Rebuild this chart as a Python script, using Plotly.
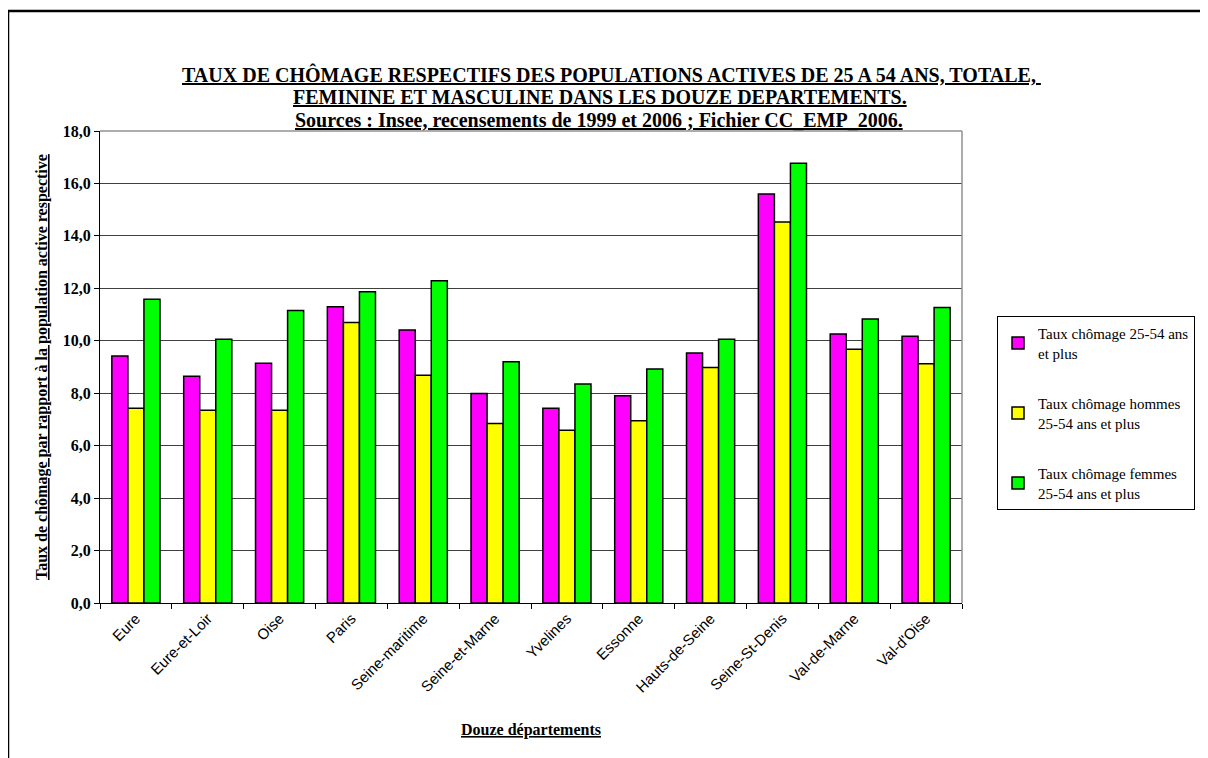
import plotly.graph_objects as go

departements = ["Eure", "Eure-et-Loir", "Oise", "Paris", "Seine-maritime", "Seine-et-Marne",
                "Yvelines", "Essonne", "Hauts-de-Seine", "Seine-St-Denis", "Val-de-Marne", "Val-d'Oise"]
taux_total = [9.42, 8.65, 9.14, 11.30, 10.41, 7.99, 7.43, 7.90, 9.53, 15.60, 10.26, 10.17]
taux_hommes = [7.43, 7.35, 7.35, 10.70, 8.69, 6.85, 6.59, 6.95, 8.98, 14.53, 9.68, 9.12]
taux_femmes = [11.58, 10.06, 11.15, 11.87, 12.29, 9.20, 8.35, 8.92, 10.06, 16.77, 10.83, 11.27]

series_names = ["Taux chômage 25-54 ans<br>et plus",
                "Taux chômage hommes<br>25-54 ans et plus",
                "Taux chômage femmes<br>25-54 ans et plus"]
series_values = [taux_total, taux_hommes, taux_femmes]
series_colors = ["#FF00FF", "#FFFF00", "#00FF00"]

OFF = 8  # page body margin
W, H = 1208 - OFF, 758 - OFF
L, R, T, B = 100, 962, 131, 603  # reference pixel positions of plot area

def px_x(p):
    return (p - L) / (R - L)

def px_y(p):
    return (B - p) / (B - T)

fig = go.Figure()
for i, (name, vals, col) in enumerate(zip(series_names, series_values, series_colors)):
    fig.add_trace(go.Bar(
        x=departements, y=vals, name=name, legendgroup=f"g{i}",
        marker=dict(color=col, line=dict(color="black", width=1.5)),
    ))

serif = "Liberation Serif, Times New Roman, serif"

fig.update_layout(
    width=W, height=H,
    margin=dict(l=L - OFF, r=(1208 - R), t=T - OFF, b=(758 - B), pad=0),
    paper_bgcolor="white", plot_bgcolor="white",
    barmode="group", bargap=0.33, bargroupgap=0,
    separators=", ",
    showlegend=True,
    legend=dict(
        x=px_x(997), y=px_y(316), xanchor="left", yanchor="top",
        bordercolor="black", borderwidth=1, bgcolor="white",
        font=dict(family=serif, size=15, color="black"),
        tracegroupgap=28, traceorder="grouped",
        itemwidth=30,
    ),
    xaxis=dict(
        showline=True, linecolor="black", linewidth=1,
        ticks="outside", tickson="boundaries", ticklen=5, tickcolor="black",
        tickangle=-45,
        tickfont=dict(family="Liberation Sans, Arial, sans-serif", size=15, color="black"),
        showgrid=False, zeroline=False,
    ),
    yaxis=dict(
        range=[0, 18], dtick=2, tickformat=".1f",
        showline=True, linecolor="black", linewidth=1,
        ticks="outside", ticklen=5, tickcolor="black",
        tickfont=dict(family=serif, size=16, color="black", weight="bold"),
        showgrid=True, gridcolor="#404040", gridwidth=1,
        zeroline=False,
    ),
    font=dict(family=serif, color="black"),
)

# plot area border (top/right in gray)
fig.add_shape(type="line", xref="paper", yref="paper", x0=0, x1=1, y0=1, y1=1,
              line=dict(color="#909090", width=1.5))
fig.add_shape(type="line", xref="paper", yref="paper", x0=1, x1=1, y0=0, y1=1,
              line=dict(color="#909090", width=1.5))

# outer chart border
fig.add_shape(type="rect", xref="paper", yref="paper",
              x0=px_x(8), x1=px_x(1230), y0=px_y(780), y1=px_y(11),
              line=dict(color="black", width=2.5), layer="below")

title_lines = ["TAUX DE CHÔMAGE RESPECTIFS DES POPULATIONS ACTIVES DE 25 A 54 ANS, TOTALE, ",
               "FEMININE ET MASCULINE DANS LES DOUZE DEPARTEMENTS.",
               "Sources : Insee, recensements de 1999 et 2006 ; Fichier CC_EMP_2006."]
title_y = [74, 97, 120]
title_x = [611, 600, 599]
for line, xx, yy in zip(title_lines, title_x, title_y):
    fig.add_annotation(text=f"<b><u>{line}</u></b>", xref="paper", yref="paper",
                       x=px_x(xx), y=px_y(yy), xanchor="center", yanchor="middle",
                       showarrow=False, font=dict(family=serif, size=20, color="black"))

fig.add_annotation(text="<b><u>Taux de chômage par rapport à la population active respective</u></b>",
                   xref="paper", yref="paper", x=px_x(42), y=px_y(367),
                   xanchor="center", yanchor="middle", textangle=-90, showarrow=False,
                   font=dict(family=serif, size=16, color="black"))

fig.add_annotation(text="<b><u>Douze départements</u></b>",
                   xref="paper", yref="paper", x=px_x(531), y=px_y(730),
                   xanchor="center", yanchor="middle", showarrow=False,
                   font=dict(family=serif, size=16, color="black"))

fig.write_html("out.html")
